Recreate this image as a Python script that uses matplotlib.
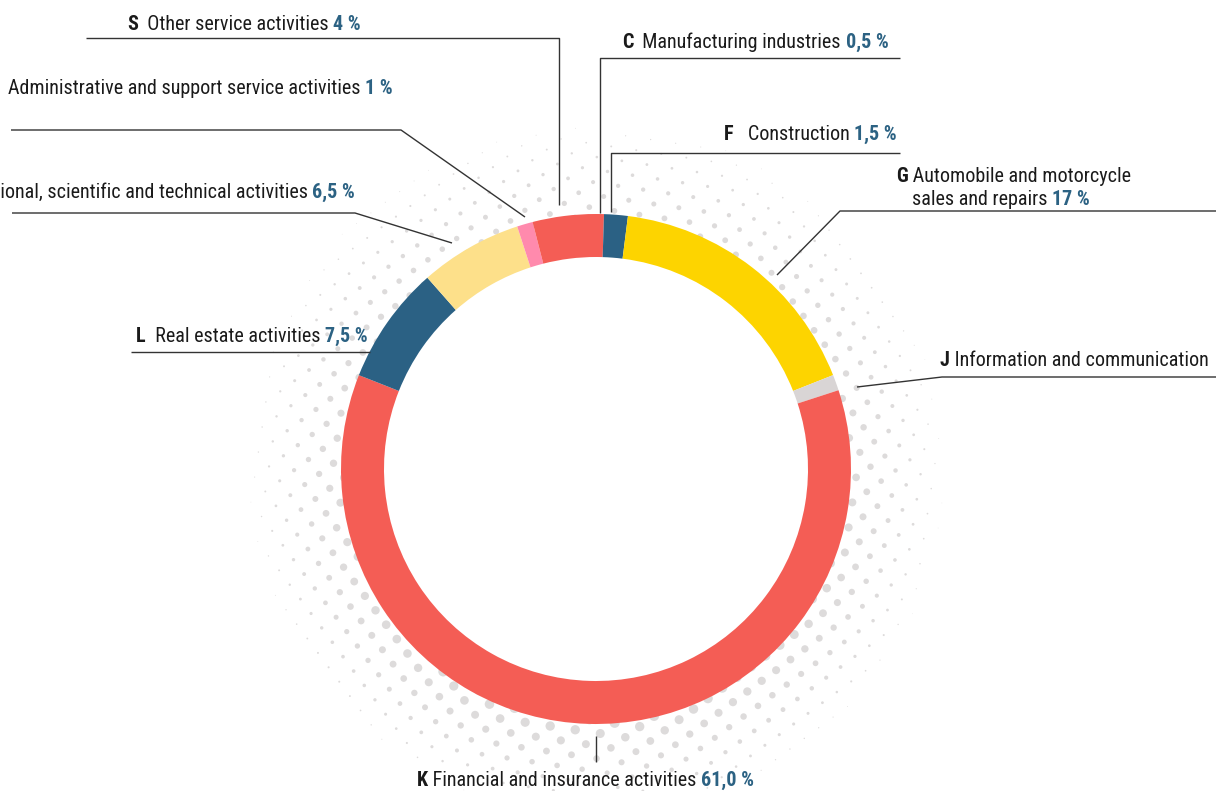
import matplotlib.pyplot as plt
import numpy as np
from matplotlib import font_manager

W, H = 1216, 791

# sectors clockwise from 12 o'clock
codes = ['C', 'F', 'G', 'J', 'K', 'L', 'M', 'N', 'S']
sectors = ['Manufacturing industries', 'Construction',
           'Automobile and motorcycle\nsales and repairs',
           'Information and communication', 'Financial and insurance activities',
           'Real estate activities', 'Professional, scientific and technical activities',
           'Administrative and support service activities', 'Other service activities']
shares = [0.5, 1.5, 17.0, 1.0, 61.0, 7.5, 6.5, 1.0, 4.0]
share_labels = ['0,5 %', '1,5 %', '17 %', '', '61,0 %', '7,5 %', '6,5 %', '1 %', '4 %']
colors = ['#f45d55', '#2b6184', '#fdd400', '#d9d5d5', '#f45d55',
          '#2b6184', '#fde08a', '#ff8aad', '#f45d55']

names = {f.name for f in font_manager.fontManager.ttflist}
FONT = 'Roboto'
for cand in ['Roboto Condensed', 'Liberation Sans Narrow', 'Open Sans Condensed']:
    if cand in names:
        FONT = cand
        break
FS = 14.5 if FONT != 'Roboto' else 13
INK = '#1a1a1a'
BLUE = '#2c6283'

fig = plt.figure(figsize=(W / 100, H / 100), dpi=100)
ax = fig.add_axes([0, 0, 1, 1])

cx, cy, R, ring = 596, H - 469, 255, 43

# halftone dots around the ring (rotated square grid)
step, rot = 17.9, np.deg2rad(36.5)
i, j = np.meshgrid(np.arange(-45, 46), np.arange(-45, 46))
gx = cx + step * (i * np.cos(rot) - j * np.sin(rot)) + 6
gy = cy + step * (i * np.sin(rot) + j * np.cos(rot)) + 4
r = np.hypot(gx - cx, gy - cy)
phi = np.arctan2(gy - cy, gx - cx)
dmax = 8.0 - 2.0 * np.sin(phi)
d = dmax * (1 - (r - R) / 100)
keep = (r > R - 6) & (d > 0.6)
ax.scatter(gx[keep], gy[keep], s=(d[keep] * 0.72) ** 2, color='#dddbdb', lw=0, zorder=0)

ax.pie(shares, colors=colors, startangle=90, counterclock=False, center=(cx, cy),
       radius=R, wedgeprops=dict(width=ring, linewidth=0), frame=True)


def P(pts):
    pts = np.array(pts, dtype=float)
    return pts[:, 0], H - pts[:, 1]


def chain(x, y, parts, align='left'):
    if align == 'right':
        parts = parts[::-1]
    t = None
    for s, w, c in parts:
        kw = dict(fontsize=FS, family=FONT, fontweight=w, color=c, ha=align)
        if t is None:
            t = ax.text(x, H - y, s, va='center', **kw)
        else:
            t = ax.annotate(s, xy=(1 if align == 'left' else 0, 0), xycoords=t, va='bottom', **kw)
    return t


# label placement: (x, y, align, gap, leader path)
layout = {
    'C': (622, 43, 'left', '  ', [(900, 58), (600, 58), (600, 213)]),
    'F': (724, 134, 'left', '   ', [(900, 153), (611, 153), (611, 212)]),
    'G': (896, 176, 'left', ' ', [(1216, 211), (840, 211), (777, 275)]),
    'J': (940, 361, 'left', ' ', [(1216, 377), (942, 377), (857, 387)]),
    'K': (417, 780, 'left', ' ', [(596, 736), (596, 762)]),
    'L': (136, 337, 'left', '  ', [(131, 352), (370, 352)]),
    'M': (355, 192, 'right', ' ', [(12, 213), (355, 213), (452, 243)]),
    'N': (393, 89, 'right', '   ', [(11, 130), (401, 130), (525, 217)]),
    'S': (127, 24, 'left', '  ', [(86, 38), (559, 38), (559, 205)]),
}

for code, name, lab in zip(codes, sectors, share_labels):
    x, y, align, gap, path = layout[code]
    lx, ly = P(path)
    ax.plot(lx, ly, color='#333333', lw=1, solid_capstyle='butt')
    lines = name.split('\n')
    if len(lines) == 1:
        parts = [(code, 'bold', INK), (gap + lines[0] + (' ' if lab else ''), 'normal', INK)]
        if lab:
            parts.append((lab, 'bold', BLUE))
        chain(x, y, parts, align)
    else:
        t0 = ax.text(x, H - y, code, fontsize=FS, family=FONT, fontweight='bold',
                     color=INK, va='center')
        t1 = ax.annotate(gap + lines[0], xy=(1, 0), xycoords=t0, va='bottom',
                         fontsize=FS, family=FONT, color=INK)
        t2 = ax.annotate(lines[1] + ' ', xy=(0, 0), xycoords=t1, va='top',
                         xytext=(3, -3), textcoords='offset points',
                         fontsize=FS, family=FONT, color=INK)
        ax.annotate(lab, xy=(1, 0), xycoords=t2, va='bottom', fontsize=FS,
                    family=FONT, fontweight='bold', color=BLUE)

ax.set_xlim(0, W)
ax.set_ylim(0, H)
ax.set_aspect('equal')
ax.axis('off')
fig.savefig('out.png', dpi=100, facecolor='white')
